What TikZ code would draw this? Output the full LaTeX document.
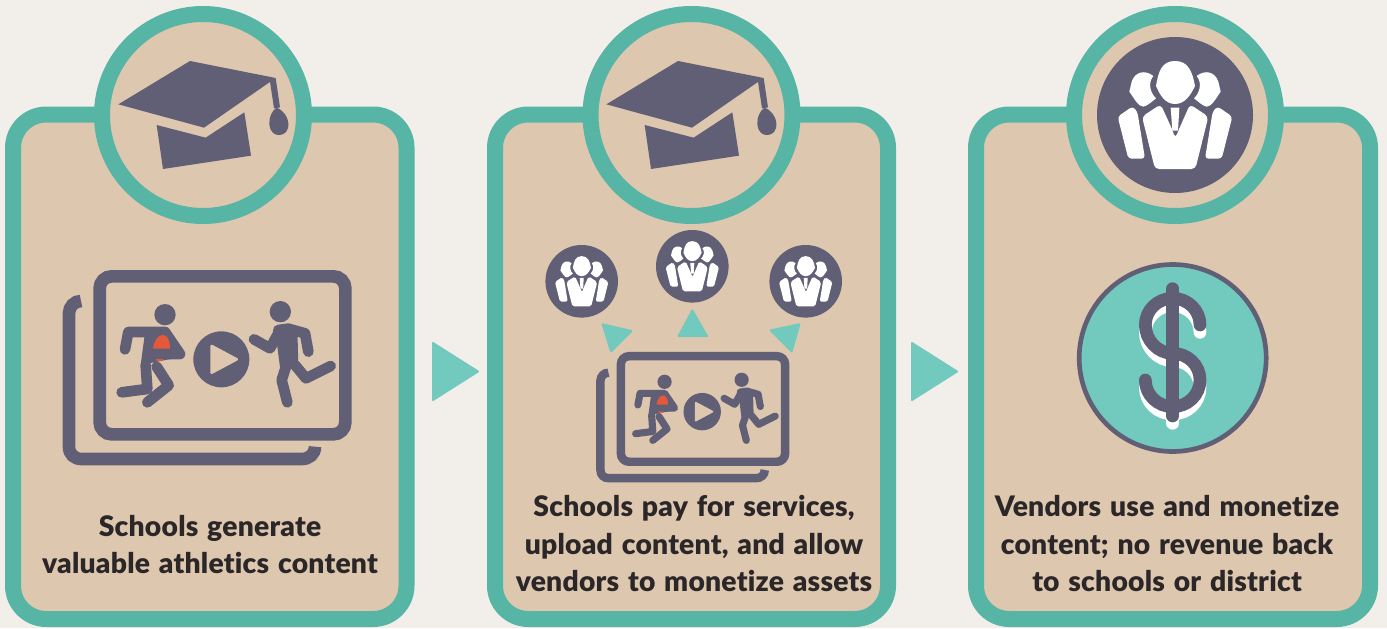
\documentclass[tikz,border=0pt]{standalone}
\usepackage{fontspec}
\setmainfont{Lato}[BoldFont={Lato Black},BoldFeatures={LetterSpace=0.8,WordSpace=1.3,RawFeature={-liga}}]
\definecolor{bgc}{HTML}{F2EFEA}
\definecolor{beige}{HTML}{DEC7AF}
\definecolor{tealdk}{HTML}{57B5A5}
\definecolor{teallt}{HTML}{72C9BD}
\definecolor{ink}{HTML}{615F76}
\definecolor{redc}{HTML}{E5583A}
\definecolor{textc}{HTML}{2B2729}
\tikzset{
  panelbox/.style={draw=tealdk,fill=beige,line width=12pt,rounded corners=25pt},
  ringc/.style={draw=tealdk,fill=beige,line width=12pt},
  pointer/.style={fill=teallt,draw=teallt,line width=1.5pt,line join=round},
  caption/.style={align=center,text=textc,font=\fontsize{21.2}{28}\selectfont\bfseries,inner sep=0pt}
}
% graduation cap: local units = zoom px
\newcommand{\capicon}[2]{%
\begin{scope}[shift={(#1,#2)},x=0.25pt,y=-0.25pt]
\fill[ink] (85,313)--(300,183)--(557,234)--(342,383)--cycle;
\fill[ink] (200,375)--(347,413)--(463,337)--(483,467)--(219,507)--cycle;
\fill[ink] (540,245)--(557,234)--(570,322)--(552,325)--cycle;
\fill[ink] (560,322) .. controls (545,335) and (537,350) .. (538,372) .. controls (540,398) and (555,406) .. (568,405) .. controls (585,405) and (597,392) .. (595,368) .. controls (593,350) and (580,332) .. (560,322) -- cycle;
\end{scope}}
% people icon
\newcommand{\peopleicon}[4]{% cx cy radius-px scale(pt per z)
\fill[ink] (#1,#2) circle[radius=#3];
\begin{scope}[shift={(#1,#2)},x=#4pt,y=-#4pt,shift={(-345,-345)}]
\fill[white] (345,183) .. controls (305,183) and (295,215) .. (288,258) .. controls (300,285) and (315,312) .. (345,312) .. controls (375,312) and (392,285) .. (405,258) .. controls (397,215) and (385,183) .. (345,183) -- cycle;
\foreach \m/\o in {1/0,-1/690}{
\begin{scope}[xshift=\o*#4 pt,x=\m*#4 pt]
\fill[white] (280,228) .. controls (255,208) and (225,215) .. (215,245) -- (208,275) .. controls (222,295) and (235,320) .. (250,320) .. controls (262,318) and (275,305) .. (288,295) .. controls (272,280) and (262,250) .. (280,228) -- cycle;
\fill[white,rounded corners=#4*10pt] (218,319)--(173,350)--(205,476)--(255,476)--(232,335)--cycle;
\end{scope}}
\fill[white,rounded corners=#4*12pt] (302,313)--(246,350)--(285,507)--(406,507)--(445,350)--(390,313)--(358,385)--(346,415)--(335,385)--cycle;
\fill[white] (332,323)--(358,323)--(354,392)--(337,392)--cycle;
\end{scope}}
% video icon
\newcommand{\vidicon}[3]{%
\begin{scope}[shift={(#1,#2)},x=#3pt,y=-#3pt]
\draw[ink,line width=38*#3pt,rounded corners=36*#3pt] (149,79) rectangle (886,553);
\draw[ink,line width=38*#3pt] (93,153) .. controls (73,153) and (57,170) .. (57,190) -- (57,590) .. controls (57,612) and (72,627) .. (95,627) -- (755,627) .. controls (778,627) and (795,612) .. (795,590);
\fill[ink] (345,194) circle[radius=32];
\fill[ink] (691,185) circle[radius=32];
\fill[ink] (514,328) circle[radius=84];
\fill[beige,draw=beige,line width=8*#3pt,line join=round] (485,288)--(560,328)--(485,368)--cycle;
\begin{scope}[ink,line width=32*#3pt,line cap=round,line join=round]
\draw (225,298)--(235,246)--(345,246)--(390,312)--(345,312);
\draw (215,427)--(292,417)--(287,345);
\draw (292,457)--(356,406)--(320,350);
\fill[line width=0pt] (285,248)--(350,245)--(372,325)--(272,345)--cycle;
\draw (612,268)--(660,295)--(685,250);
\draw (775,305)--(765,250)--(715,236)--(685,240);
\draw (842,348)--(768,385)--(735,345);
\draw (712,457)--(695,390)--(708,350);
\fill[line width=0pt] (675,235)--(742,235)--(745,345)--(690,352)--cycle;
\end{scope}
\fill[redc] (309,296) .. controls (312,272) and (325,255) .. (338,255) .. controls (352,255) and (360,270) .. (360,296) -- cycle;
\fill[redc] (316,327)--(341,327)--(335,333)--(322,333)--cycle;
\end{scope}}
% dollar sign
\newcommand{\dollarpath}[1]{%
\draw[#1,line width=9.5pt,line cap=round] (338,116)--(338,498);
\draw[#1,line width=9.5pt,line cap=round] (420,225) .. controls (420,180) and (383,145) .. (338,145) .. controls (293,145) and (256,180) .. (256,225) .. controls (256,270) and (293,310) .. (338,310) .. controls (383,310) and (420,345) .. (420,390) .. controls (420,435) and (383,470) .. (338,470) .. controls (293,470) and (256,435) .. (256,390);}
\begin{document}
\begin{tikzpicture}[x=0.75pt,y=-0.75pt]
\useasboundingbox (0,0) rectangle (1387,628);
\fill[bgc] (0,0) rectangle (1387,628);
% panels
\draw[panelbox] (13,114.5) rectangle (406.5,619);
\draw[panelbox] (495,114.5) rectangle (888,619);
\draw[panelbox] (976,114.5) rectangle (1370,619);
% rings
\draw[ringc] (203,115) circle[radius=101];
\draw[ringc] (691.5,115) circle[radius=101];
\draw[ringc] (1175,115) circle[radius=101];
% icons
\capicon{90}{0}
\capicon{578}{0}
\peopleicon{1175}{115}{78}{0.25}
\vidicon{50}{250}{0.25}
\vidicon{587.75}{338.6}{0.167}
\peopleicon{581.7}{281.3}{36.3}{0.1165}
\peopleicon{692.3}{266.3}{36.3}{0.1165}
\peopleicon{805.7}{281.3}{36.3}{0.1165}
% small pointers
\begin{scope}[shift={(530,220)},x=0.25pt,y=-0.25pt]
\path[pointer] (218,313)--(304,333)--(243,394)--cycle;
\path[pointer] (487,271)--(531,348)--(446,348)--cycle;
\path[pointer] (808,313)--(722,331)--(785,394)--cycle;
\end{scope}
% flow pointers
\path[pointer] (433,343)--(478,371.5)--(433,400)--cycle;
\path[pointer] (912,343)--(957,371.5)--(912,400)--cycle;
% dollar coin
\draw[ink,fill=teallt,line width=3.5pt] (1172.7,358) circle[radius=93.5];
\begin{scope}[shift={(1060,250)},x=0.25pt,y=-0.25pt]
\begin{scope}[yshift=-5.5pt]\dollarpath{white}\end{scope}
\dollarpath{ink}
\end{scope}
% captions
\node[caption] (t1) at (210,544.5) {Schools generate\\valuable athletics content};
\node[caption] (t2) at (694,543.5) {Schools pay for services,\\upload content, and allow\\vendors to monetize assets};
\node[caption] (t3) at (1167,543.5) {Vendors use and monetize\\content; no revenue back\\to schools or district};
\end{tikzpicture}
\end{document}
